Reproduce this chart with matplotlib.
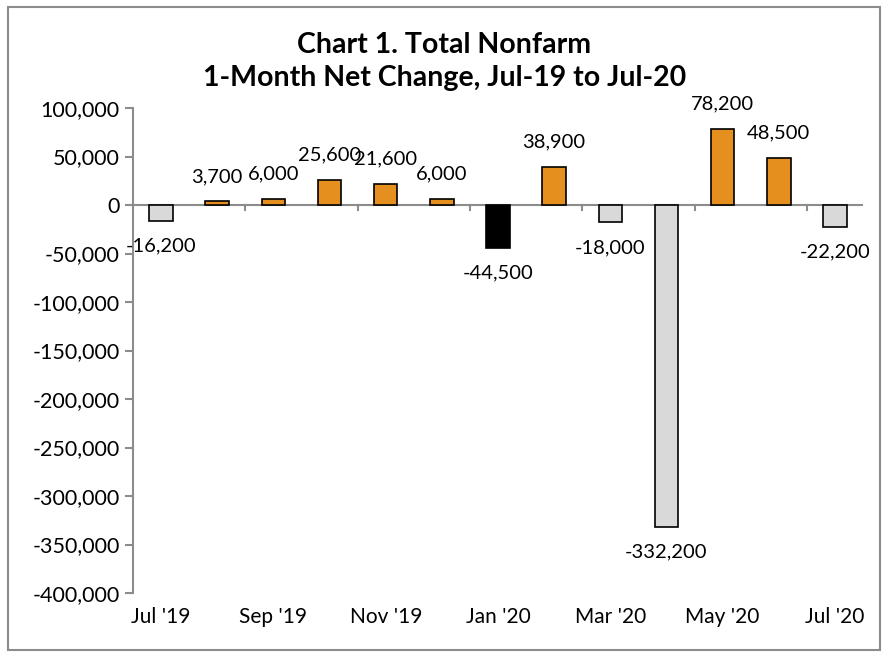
import numpy as np
import matplotlib.pyplot as plt
from matplotlib.patches import Rectangle

months = ["Jul '19", "Aug '19", "Sep '19", "Oct '19", "Nov '19", "Dec '19", "Jan '20",
          "Feb '20", "Mar '20", "Apr '20", "May '20", "Jun '20", "Jul '20"]
changes = [-16200, 3700, 6000, 25600, 21600, 6000, -44500,
           38900, -18000, -332200, 78200, 48500, -22200]
highlight = "Jan '20"

ORANGE = '#e58f1e'
GRAY = '#d9d9d9'


def main():
    plt.rcParams['font.family'] = ['Lato', 'DejaVu Sans']
    fig = plt.figure(figsize=(8.83, 6.54), dpi=100)
    ax = fig.add_axes([133 / 883, 1 - 593 / 654, 730 / 883, 485 / 654])

    x = np.arange(len(months))
    colors = []
    for m, v in zip(months, changes):
        if m == highlight:
            colors.append('black')
        elif v < 0:
            colors.append(GRAY)
        else:
            colors.append(ORANGE)
    ax.bar(x, changes, width=0.42, color=colors, edgecolor='black', linewidth=1.2, zorder=3)

    # data labels
    for xi, v in zip(x, changes):
        off = 18 if v >= 0 else -18
        ax.annotate(f'{v:,}', (xi, v), xytext=(0, off), textcoords='offset points',
                    ha='center', va='center', fontsize=14.5)

    ax.set_xlim(-0.5, len(months) - 0.5)
    ax.set_ylim(-400000, 100000)
    ax.set_yticks(np.arange(-400000, 100001, 50000))
    ax.set_yticklabels([f'{int(t):,}' for t in ax.get_yticks()], fontsize=15.5)

    # zero line with category tick marks
    ax.axhline(0, color='#8c8c8c', lw=1.5, zorder=2)
    for b in np.arange(1.5, len(months) - 1, 2):
        ax.plot([b, b], [0, -5000], color='#8c8c8c', lw=1.5, zorder=2, clip_on=False)

    ax.set_xticks(x[::2])
    ax.set_xticklabels(months[::2], fontsize=15)
    ax.tick_params(axis='x', length=0, pad=10)
    ax.tick_params(axis='y', color='#8c8c8c', width=1.5, length=6)

    for s in ['top', 'right', 'bottom']:
        ax.spines[s].set_visible(False)
    ax.spines['left'].set_color('#8c8c8c')
    ax.spines['left'].set_linewidth(1.5)

    fig.text(0.503, 1 - 45 / 654, 'Chart 1. Total Nonfarm', ha='center', va='center',
             fontsize=20.5, fontweight='bold')
    fig.text(0.503, 1 - 78 / 654, '1-Month Net Change, Jul-19 to Jul-20', ha='center',
             va='center', fontsize=20.5, fontweight='bold')

    fig.patches.append(Rectangle((8 / 883, 4 / 654), 872 / 883, 643 / 654,
                                 transform=fig.transFigure, fill=False,
                                 edgecolor='#8c8c8c', lw=1.5))
    fig.savefig('out.png', dpi=100)


if __name__ == '__main__':
    plt.close('all')
    main()
